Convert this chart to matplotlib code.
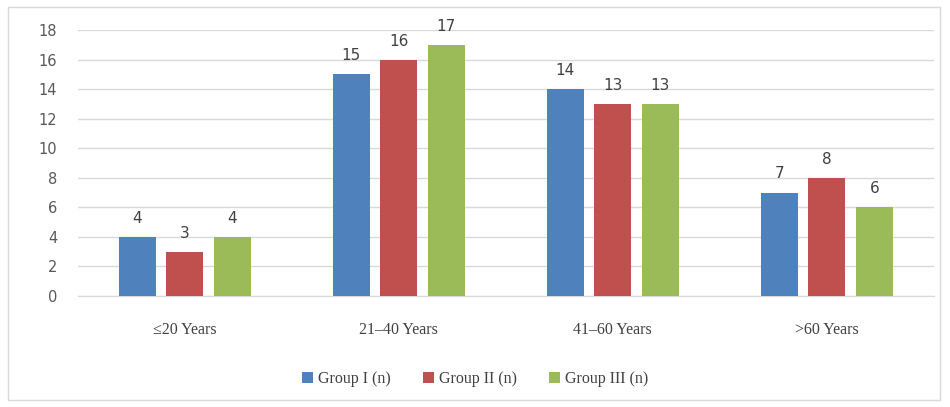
import matplotlib
matplotlib.use("Agg")
import matplotlib.pyplot as plt
import numpy as np
from matplotlib.patches import Rectangle

categories = ["≤20 Years", "21–40 Years", "41–60 Years", ">60 Years"]
series_names = ["Group I (n)", "Group II (n)", "Group III (n)"]
group1 = [4, 15, 14, 7]
group2 = [3, 16, 13, 8]
group3 = [4, 17, 13, 6]
colors = ["#4F81BD", "#C0504D", "#9BBB59"]

fig = plt.figure(figsize=(9.5, 4.07), dpi=100)
ax = fig.add_axes([0.082, 0.273, 0.901, 0.653])

x = np.arange(len(categories))
w = 0.173
step = 0.222
for i, (vals, name, c) in enumerate(zip([group1, group2, group3], series_names, colors)):
    bars = ax.bar(x + (i - 1) * step, vals, width=w, color=c, label=name, zorder=3)
    for b, v in zip(bars, vals):
        ax.text(b.get_x() + b.get_width() / 2, v + 0.75, str(v), ha="center", va="bottom",
                fontsize=11, color="#404040", family="DejaVu Sans")

ax.set_xlim(-0.5, 3.5)
ax.set_ylim(0, 18)
ax.set_yticks(range(0, 19, 2))
ax.yaxis.grid(True, color="#D9D9D9", linewidth=1, zorder=0)
for s in ["top", "right", "left"]:
    ax.spines[s].set_visible(False)
ax.spines["bottom"].set_color("#D9D9D9")
ax.tick_params(axis="both", length=0)
ax.tick_params(axis="y", labelsize=10.5, labelcolor="#595959", pad=15)
ax.set_xticks(x)
ax.set_xticklabels(categories, fontsize=11.5, color="#404040", family="Liberation Serif")
ax.tick_params(axis="x", pad=19)
for lbl in ax.get_yticklabels():
    lbl.set_family("DejaVu Sans")

leg = fig.legend(loc="center", bbox_to_anchor=(0.5, 0.068), ncol=3, frameon=False,
                 prop={"family": "Liberation Serif", "size": 11.5},
                 handlelength=0.7, handleheight=0.7, handletextpad=0.3, columnspacing=2.0)
for t in leg.get_texts():
    t.set_color("#404040")

fig.patches.append(Rectangle((8 / 950, 7 / 407), 932 / 950, 393 / 407, transform=fig.transFigure,
                             fill=False, edgecolor="#D9D9D9", linewidth=1))

fig.savefig("out.png", dpi=100)
